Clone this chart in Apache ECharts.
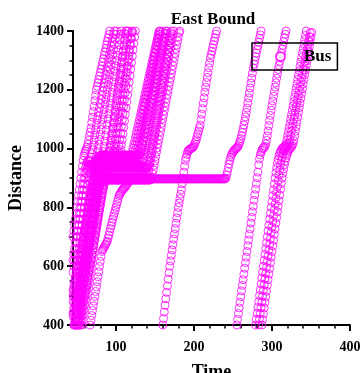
<!DOCTYPE html>
<html lang="en">
<head>
    <meta charset="UTF-8">
    <title>East Bound</title>
    <script src="https://cdn.jsdelivr.net/npm/echarts@6/dist/echarts.min.js"></script>
    <style>
        body { margin: 0; background: #fff; }
    </style>
</head>
<body>
    <div id="main" style="width: 364px; height: 373px;"></div>

    <script>
        // ticks
        var xMajor = [100, 200, 300, 400];
        var xMinor = [60, 80, 120, 140, 160, 180, 220, 240, 260, 280, 320, 340, 360, 380];

        // bus trajectories: distance recorded once a second, starting at tripStart
        var busA1 = [700,720,740,760,780,800,820,840,860,880,900,920,940,960,975,985,992,998,1005,1015,1028,1042,1056,1070,1089,1107,1126,1144,1163,1181,1200,
            1212,1224,1235,1247,1259,1271,1282,1294,1306,1318,1329,1341,1353,1365,1376,1388,1400];
        var busA2 = [580,600,620,640,660,680,700,720,740,760,780,800,820,840,860,880,900,915,928,938,
            945,945,945,945,945,945,945,945,
            950,960,972,986,1000,1015,1031,1048,1065,1082,1099,1116,1133,1150,1167,1184,1201,1218,1235,1252,1269,1286,1303,1320,1337,1354,1371,1388,1400];
        var busA3 = [500,520,540,560,580,600,620,640,660,680,700,720,740,760,780,800,820,840,858,875,890,903,915,925,933,938,
            940,940,940,940,940,940,940,940,940,
            943,950,961,975,990,1007,1025,1044,1063,1082,1101,1119,1137,1155,1173,1191,1209,1227,1245,1263,1281,1299,1317,1335,1353,1371,1389,1400];
        var busA4 = [400,420,440,460,480,500,520,540,560,580,600,620,640,660,680,700,720,740,760,780,800,818,835,851,866,880,893,905,916,926,935,943,950,955,958,
            960,960,960,960,960,960,960,960,
            965,975,988,1002,1018,1035,1053,1072,1091,1110,1130,1150,1170,1190,1210,1230,1250,1270,1290,1310,1330,1350,1370,1390,1400];
        var busA5 = [400,419,438,457,476,495,514,533,552,571,590,609,628,647,666,685,704,723,742,761,780,799,818,836,853,869,884,898,911,922,933,942,948,
            950,950,950,950,950,950,950,950,950,950,950,950,950,
            954,963,976,991,1010,1031,1052,1074,1096,1118,1140,1162,1184,1206,1228,1250,1272,1294,1316,1338,1360,1380,1400];
        var busA6 = [400,418,436,454,472,490,508,526,544,562,580,598,616,634,652,670,688,706,724,742,760,778,796,814,832,850,868,885,900,914,926,936,944,950,954,
            955,955,955,955,955,955,955,955,955,955,
            955,955,955,955,955,
            958,966,978,993,1010,1030,1052,1075,1098,1121,1144,1167,1190,1213,1236,1259,1282,1305,1328,1351,1374,1397];
        var busA7 = [400,420,440,460,480,500,520,540,560,580,600,620,640,660,680,700,720,740,760,780,800,820,840,860,880,900,918,934,948,959,967,
            972,972,972,972,972,972,972,972,972,972,
            972,972,972,972,972,972,972,972,972,972,
            972,
            976,984,996,1012,1030,1050,1072,1094,1116,1138,1160,1182,1204,1226,1248,1270,1292,1314,1336,1358,1380,1400];
        var busA8 = [620,640,660,680,700,720,740,760,780,800,820,840,860,880,900,
            918,933,945,953,958,958,958,
            962,970,982,996,1012,1029,1046,1063,1080,1097,
            1111,1125,1139,1153,1167,1181,1195,1209,1223,1237,1251,1265,1279,1293,1307,1321,1335,1349,1363,1377,1391,1400];
        var busA9 = [400,419,438,457,476,495,514,533,552,571,590,609,628,647,666,685,704,723,742,761,780,799,818,837,856,
            873,889,903,915,925,932,936,
            936,936,936,936,936,936,936,936,936,
            940,948,960,975,992,1010,1029,1048,1067,
            1086,1105,1124,1143,1162,1181,1200,1219,1238,1257,1276,1295,1314,1333,1352,1371,1390,1400];
        var busA10 = [400,417,434,451,468,485,502,519,536,553,570,587,604,621,638,655,672,689,706,723,740,757,774,791,808,825,842,859,
            875,890,904,917,929,940,949,956,961,964,965,
            965,965,965,965,965,965,
            968,975,986,1000,1016,1033,1051,1070,1089,1108,1127,1146,1165,1184,1203,1222,1241,1260,1279,1298,1317,1336,1355,1374,1393,1400];

        var busB1 = [440,458,476,494,512,530,548,566,584,602,620,638,656,674,692,710,728,746,764,782,800,818,836,854,872,890,
            906,921,935,947,956,962,966,
            968,968,968,968,968,968,968,968,968,968,
            968,968,968,968,968,968,968,968,968,968,
            968,968,968,968,968,968,968,968,968,968,
            968,968,968,968,968,968,968,968,968,968,
            968,
            971,978,989,
            1001,1013,1025,1037,1049,1061,1073,1085,1097,1109,1121,1133,1145,1157,1169,1181,1193,1205,1217,1229,1241,1253,1265,1277,1289,1301,1313,1325,1337,1349,1361,1373,1385,1397];
        var busB2 = [400,417,434,451,468,485,502,519,536,553,570,587,604,621,638,655,672,689,706,723,740,757,774,791,808,825,842,859,876,
            892,907,921,934,945,954,960,
            962,962,962,962,962,962,962,962,962,962,
            962,962,962,962,962,962,962,962,962,962,
            962,962,962,962,962,962,962,962,962,962,
            962,962,962,962,962,962,962,962,962,
            965,972,983,996,1010,1024,1038,1052,1065,
            1078,1091,1104,1117,1130,1143,1156,1169,1182,1195,1208,1221,1234,1247,1260,1273,1286,1299,1312,1325,1338,1351,1364,1377,1390,1400];
        var busB3 = [400,416,432,448,464,480,496,512,528,544,560,576,592,608,624,640,656,672,688,704,720,736,752,768,784,800,816,832,848,864,880,
            895,909,922,934,944,951,
            955,955,955,955,955,955,955,955,955,955,
            955,955,955,955,955,955,955,955,955,955,
            955,955,955,955,955,955,955,955,955,955,
            955,955,955,955,955,955,955,955,955,
            959,967,979,993,1008,1023,1038,1053,
            1067,1081,1095,1109,1123,1137,1151,1165,1179,1193,1207,1221,1235,1249,1263,1277,1291,1305,1319,1333,1347,1361,1375,1389,1400];
        var busB4 = [520,534,548,562,576,590,604,618,632,646,660,674,688,702,716,730,744,758,772,786,800,814,828,842,856,870,
            883,895,906,916,925,932,940,945,
            948,948,948,948,948,948,948,948,948,948,
            948,948,948,948,948,948,948,948,948,948,
            948,948,948,948,948,948,948,948,948,948,
            948,948,948,948,948,948,948,948,948,948,
            948,948,948,948,948,948,948,948,948,
            952,960,972,986,1001,1016,1031,1046,1061,1076,
            1090,1104,1118,1132,1146,1160,1174,1188,1202,1216,1230,1244,1258,1272,1286,1300,1314,1328,1342,1356,1370,1384,1398];
        var busB5 = [400,415,430,445,460,475,490,505,520,535,550,565,580,595,610,625,640,655,670,685,700,715,730,745,760,775,790,805,820,835,850,
            864,877,892,906,918,928,935,940,
            942,942,942,942,942,942,942,942,942,942,
            942,942,942,942,942,942,942,942,942,942,
            942,942,942,942,942,942,942,942,942,942,
            942,942,942,942,942,942,942,942,942,942,
            946,954,966,980,995,1010,1025,1040,1055,
            1069,1083,1097,1111,1125,1139,1153,1167,1181,1195,1209,1223,1237,1251,1265,1279,1293,1307,1321,1335,1349,1363,1377,1391,1400];
        var busB6 = [400,417,434,451,468,485,502,519,536,553,570,587,604,621,638,655,672,689,706,723,740,757,774,791,808,825,842,859,
            874,886,895,901,
            904,904,904,904,904,904,904,904,904,904,
            904,904,904,904,904,904,904,904,904,904,
            904,904,904,904,904,904,904,904,904,904,
            904,904,904,904,904,904,904,904,904,904,
            904,904,904,904,904,904,904,904,
            908,916,928,942,957,972,987,1002,1017,
            1031,1046,1060,1075,1089,1104,1118,1133,1147,1162,1176,1191,1205,1220,1234,1249,1263,1278,1292,1307,1321,1336,1350,1365,1379,1394];
        var busB7 = [400,416,432,448,464,480,496,512,528,544,560,576,592,608,624,640,656,672,688,704,720,736,752,768,784,800,816,832,848,864,
            878,888,895,899,
            900,900,900,900,900,900,900,900,900,900,
            900,900,900,900,900,900,900,900,900,900,
            900,900,900,900,900,900,900,900,900,900,
            900,900,900,900,900,900,900,900,900,900,
            900,900,900,900,900,900,900,900,900,900,
            900,900,
            904,912,924,938,953,968,983,998,1013,1028,
            1043,1058,1073,1088,1103,1118,1133,1148,1163,1178,1193,1208,1223,1238,1253,1268,1283,1298,1313,1328,1343,1358,1373,1388,1400];
        var busB8 = [430,443,456,469,482,495,508,521,534,547,560,573,586,599,612,625,638,651,664,677,690,703,716,729,742,755,768,781,794,807,820,833,846,
            858,869,878,885,890,
            893,893,893,893,893,893,893,893,893,893,
            893,893,893,893,893,893,893,893,893,893,
            893,893,893,893,893,893,893,893,893,893,
            893,893,893,893,893,893,893,893,893,893,
            893,893,893,893,893,893,893,893,893,893,
            893,893,893,893,893,893,893,893,893,893,
            893,893,
            896,903,914,928,943,958,973,988,1002,
            1016,1030,1044,1058,1072,1086,1100,1114,1128,1142,1156,1170,1184,1198,1212,1226,1240,1254,1268,1282,1296,1310,1324,1338,1352,1366,1380,1394,1400];
        var busB9 = [480,496,512,528,544,560,576,592,608,624,640,656,672,688,704,720,736,752,768,784,800,816,832,848,864,880,
            896,911,925,938,949,958,965,971,975,977,978,
            978,978,978,978,978,978,978,978,978,978,
            978,978,978,978,978,978,978,978,978,978,
            978,978,978,978,978,978,978,978,978,978,
            978,978,978,978,978,978,978,978,978,978,
            978,978,978,978,978,978,978,978,978,
            981,988,999,1012,1026,1040,
            1053,1066,1079,1092,1105,1118,1131,1144,1157,1170,1183,1196,1209,1222,1235,1248,1261,1274,1287,1300,1313,1326,1339,1352,1365,1378,1391,1400];
        var busB10 = [400,418,436,454,472,490,508,526,544,562,580,598,616,634,652,670,688,706,724,742,760,778,796,814,832,850,
            866,880,893,905,915,923,929,933,935,
            935,935,935,935,935,935,935,935,935,935,
            935,935,935,935,935,935,935,935,935,935,
            935,935,935,935,935,935,935,935,935,935,
            935,935,935,935,935,935,935,935,935,935,
            935,935,935,935,935,935,935,935,935,935,
            935,935,935,935,935,935,
            938,945,956,970,985,1000,1016,1032,
            1048,1064,1080,1096,1112,1128,1144,1160,1176,1192,1208,1224,1240,1256,1272,1288,1304,1320,1336,1352,1368,1384,1400];

        // the bus that waits at ~900 until t=240
        var busF = [400,416,432,449,465,481,497,514,530,547,564,581,599,616,633,650,
            655,660,665,670,675,680,685,696,706,717,728,738,749,760,770,780,790,800,810,820,830,840,
            845,849,854,858,861,864,867,870,874,878,882,886,890,893,894,895,896,896,
            897,897,897,897,897,897,897,897,897,897,
            897,897,897,897,897,897,897,897,897,897,
            897,897,897,897,897,897,897,897,897,897,
            897,897,897,897,897,897,897,897,897,897,
            897,897,897,897,897,897,897,897,897,897,
            897,897,897,897,897,897,897,897,897,897,
            897,897,897,897,897,897,897,897,897,897,
            897,897,897,897,897,897,897,897,897,897,
            897,897,897,897,897,897,897,897,897,897,
            897,897,897,897,897,897,897,897,897,897,
            897,897,897,897,897,897,897,897,897,897,
            897,897,897,897,897,897,897,897,
            900,910,922,935,948,960,970,978,984,988,992,995,998,1000,1003,1005,
            1010,1017,1025,1034,1044,1055,1067,1080,1094,1108,1123,1138,
            1155,1172,1189,1206,1223,1240,1257,1274,
            1287,1299,1312,1325,1337,1350,1362,1375,1387,1400];

        var busR0 = [400,422,444,467,489,511,533,556,578,600,618,637,655,673,692,710,728,746,764,782,800,
            815,830,845,860,880,900,920,940,960,970,980,990,993,996,998,1000,1002,1004,1005,
            1010,1016,1023,1030,1040,1050,1060,1070,1080,1099,1117,1136,1155,1173,1192,
            1209,1225,1242,1258,1275,1291,1308,1320,1331,1343,1354,1366,1377,1389,1400];
        var busR1 = [400,419,439,458,477,496,516,535,554,573,593,612,631,650,670,689,708,727,747,766,785,804,824,843,862,881,901,920,
            945,965,978,987,994,999,1002,1004,1008,1016,1028,1043,1060,1078,1096,1113,1130,1146,1162,1178,1194,1209,
            1224,1239,1254,1269,1283,1297,1311,1325,1338,1351,1364,1377,1389,1400];
        var busR2 = [400,420,440,460,480,500,520,540,560,580,600,620,640,660,680,700,720,740,760,780,800,820,840,860,880,900,
            918,935,950,963,975,984,991,996,1000,1003,1005,1007,1010,1016,
            1029,1043,1057,1071,1085,1100,1115,1130,1145,1160,1175,1190,1205,1220,1235,1250,1265,1280,1295,1310,1325,1340,1355,1370,1385,1400];
        var busR3 = [400,420,439,459,478,498,518,537,557,576,596,616,635,655,674,694,714,733,753,772,792,812,831,851,870,890,910,
            928,945,960,972,982,990,996,1000,1003,1006,1009,1013,1020,1030,
            1044,1058,1072,1086,1100,1114,1128,1142,1156,1170,1184,1198,1212,1226,1240,1254,1268,1282,1296,1310,1324,1338,1352,1366,1380,1394];
        var busR4 = [400,419,438,458,477,496,515,535,554,573,592,612,631,650,669,688,708,727,746,765,785,804,823,842,862,881,900,
            916,931,945,957,968,977,985,992,997,1000,1003,1006,1010,1017,1027,
            1043,1059,1075,1091,1107,1123,1139,1155,1171,1187,1203,1219,1235,1251,1267,1283,1299,1315,1331,1347,1363,1379,1395];

        var trips = [busA1, busA2, busA3, busA4, busA5, busA6, busA7, busA8, busA9, busA10,
            busB1, busB2, busB3, busB4, busB5, busB6, busB7, busB8, busB9, busB10,
            busF, busR0, busR1, busR2, busR3, busR4];
        var tripStart = [45, 45, 45, 46, 48, 50, 52, 45, 47, 51,
            45, 47, 49, 45, 53, 56, 54, 45, 45, 50,
            67, 160, 255, 279, 283, 287];

        var points = [];
        trips.forEach(function (trip, i) {
            trip.forEach(function (d, k) {
                points.push([tripStart[i] + k, d]);
            });
        });

        var mycharts = echarts.init(document.getElementById('main'));
        var serif = 'Liberation Serif';
        var magenta = '#ff00ff';

        var option = {
            animation: false,
            title: {
                text: 'East Bound',
                left: 208,
                top: 6,
                textAlign: 'center',
                textStyle: { fontFamily: serif, fontWeight: 'bold', fontSize: 17, color: '#000' }
            },
            legend: {
                left: 252,
                top: 43,
                orient: 'vertical',
                padding: [5, 6, 5, 23],
                borderColor: '#000',
                borderWidth: 1.5,
                itemWidth: 9,
                itemHeight: 9,
                data: [{ name: 'Bus', icon: 'emptyCircle' }],
                itemStyle: { color: magenta, borderColor: magenta, borderWidth: 1 },
                textStyle: { fontFamily: serif, fontWeight: 'bold', fontSize: 17, color: '#000', padding: [0, 0, 0, 14] }
            },
            grid: { left: 73, right: 14, top: 31, bottom: 48, outerBoundsMode: 'none' },
            xAxis: [{
                type: 'value',
                min: 45,
                max: 400,
                position: 'bottom',
                name: 'Time',
                nameLocation: 'middle',
                nameGap: 38,
                nameTextStyle: { fontFamily: serif, fontWeight: 'bold', fontSize: 18, color: '#000' },
                axisLine: { show: true, lineStyle: { color: '#000', width: 2 } },
                axisTick: { show: true, customValues: xMajor, length: 6, lineStyle: { color: '#000', width: 2 } },
                axisLabel: {
                    customValues: xMajor, margin: 15, fontFamily: serif, fontWeight: 'bold', fontSize: 14, color: '#000',
                    formatter: function (v) { return String(v); }
                },
                splitLine: { show: false }
            }, {
                type: 'value',
                min: 45,
                max: 400,
                position: 'bottom',
                axisLine: { show: false },
                axisTick: { show: true, customValues: xMinor, length: 3.5, lineStyle: { color: '#000', width: 1.5 } },
                axisLabel: { show: false },
                splitLine: { show: false }
            }],
            yAxis: {
                type: 'value',
                min: 400,
                max: 1400,
                interval: 200,
                name: 'Distance',
                nameLocation: 'middle',
                nameGap: 41,
                nameTextStyle: { fontFamily: serif, fontWeight: 'bold', fontSize: 18, color: '#000' },
                axisLine: { show: true, lineStyle: { color: '#000', width: 2 } },
                axisTick: { show: true, length: 6, lineStyle: { color: '#000', width: 2 } },
                minorTick: { show: true, splitNumber: 4, length: 3.5, lineStyle: { color: '#000', width: 1.5 } },
                axisLabel: {
                    margin: 9, fontFamily: serif, fontWeight: 'bold', fontSize: 14, color: '#000',
                    formatter: function (v) { return String(v); }
                },
                splitLine: { show: false },
                minorSplitLine: { show: false }
            },
            series: [{
                name: 'Bus',
                type: 'scatter',
                data: points,
                symbol: 'circle',
                symbolSize: 8,
                large: false,
                progressive: 0,
                silent: true,
                clip: true,
                itemStyle: { color: 'rgba(0,0,0,0)', borderColor: magenta, borderWidth: 1 }
            }]
        };

        mycharts.setOption(option);
    </script>
</body>
</html>
